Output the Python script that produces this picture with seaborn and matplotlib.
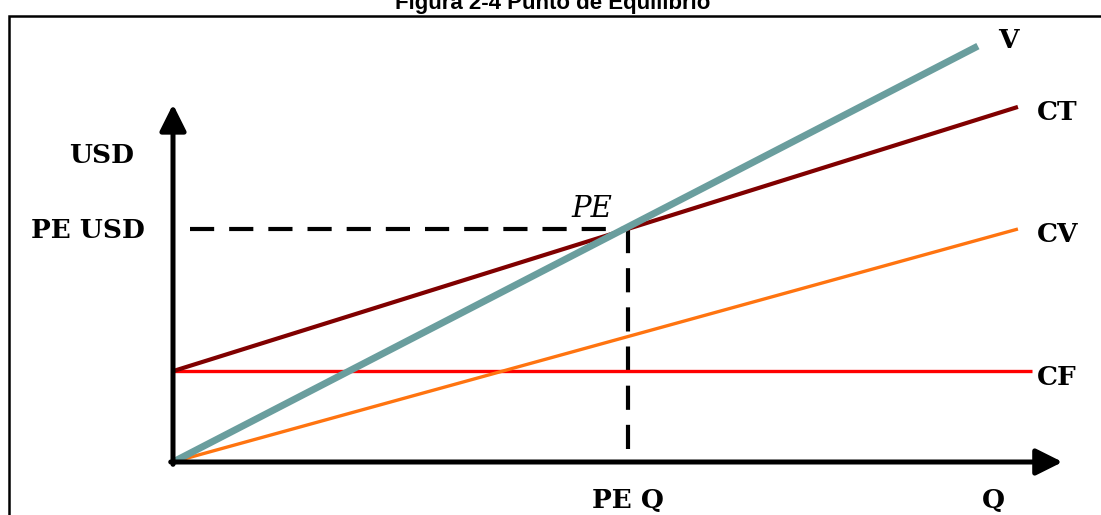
import matplotlib
matplotlib.use("Agg")
import matplotlib.pyplot as plt
import pandas as pd
import seaborn as sns
from matplotlib.patches import Rectangle

# Break-even chart values (Q units, USD units)
Q_FIXED = [0.0, 18.88]
USD_FIXED = [3.9, 3.9]
Q_TOTAL = [0.0, 18.57]
USD_TOTAL = [3.9, 15.24]
Q_SALES = [0.0, 17.69]
USD_SALES = [0.0, 17.85]
Q_VAR = [0.0, 18.57]
USD_VAR = [0.0, 10.0]
PE_Q = 10.0
PE_USD = 10.0
Q_AXIS_END = 19.55
USD_AXIS_END = 15.35

LINE_NAMES = ["CF", "CV", "CT", "V"]
LINE_COLORS = {"CF": "#FF0000", "CV": "#FF7410", "CT": "#800000", "V": "#6A9E9E"}
LINE_WIDTHS = {"CF": 2.4, "CV": 2.4, "CT": 3.0, "V": 5.0}

TITLE = "Figura 2-4 Punto de Equilibrio"

sns.set_style("white")
plt.rcParams["font.family"] = ["DejaVu Serif"]
plt.rcParams["text.color"] = "black"

fig = plt.figure(figsize=(11.01, 5.15), dpi=100)
ax = fig.add_axes([0, 0, 1, 1])

# pixel layout: origin at (173, 462), 45.5 px per Q, 23.3 px per USD
ax.set_xlim(-173 / 45.5, (1101 - 173) / 45.5)
ax.set_ylim(-(515 - 462) / 23.3, 462 / 23.3)
ax.axis("off")

# border box
fig.patches.append(Rectangle((9 / 1101, -0.1), 1.2, 1.1 - 16 / 515,
                             transform=fig.transFigure, fill=False,
                             edgecolor="black", linewidth=1.8))

fig.text(0.502, 1 - 9 / 515, TITLE, ha="center", va="baseline", color="black",
         fontsize=16, fontweight="bold", family=["Liberation Sans", "DejaVu Sans"])

# dashed guides to the break-even point
ax.plot([0.37, PE_Q], [PE_USD, PE_USD], color="black", lw=3,
        dashes=(5.8, 3.6), solid_capstyle="butt", zorder=2)
ax.plot([PE_Q, PE_Q], [PE_USD, 0], color="black", lw=3,
        dashes=(5.8, 3.6), zorder=2)

lines = pd.DataFrame({
    "name": ["CF", "CF", "CV", "CV", "CT", "CT", "V", "V"],
    "q": Q_FIXED + Q_VAR + Q_TOTAL + Q_SALES,
    "usd": USD_FIXED + USD_VAR + USD_TOTAL + USD_SALES,
})
for name in LINE_NAMES:
    sub = lines[lines["name"] == name]
    sns.lineplot(data=sub, x="q", y="usd", color=LINE_COLORS[name],
                 lw=LINE_WIDTHS[name], ax=ax, zorder=3, sort=False,
                 solid_capstyle="butt")

# axes with arrowheads
arrow = dict(arrowstyle="-|>,head_length=0.8,head_width=0.4", color="black",
             lw=3.6, mutation_scale=20, shrinkA=0, shrinkB=0)
ax.annotate("", xy=(0, USD_AXIS_END), xytext=(0, -0.1), arrowprops=arrow, zorder=4)
ax.annotate("", xy=(Q_AXIS_END, 0), xytext=(-0.05, 0), arrowprops=arrow, zorder=4)

lab = dict(fontsize=19, fontweight="bold", va="baseline", color="black")
ax.text(-1.57, 12.83, "USD", ha="center", **lab)
ax.text(-1.87, 9.61, "PE USD", ha="center", **lab)
ax.text(PE_Q, -1.97, "PE Q", ha="center", **lab)
ax.text(18.02, -1.97, "Q", ha="center", **lab)
ax.text(18.35, 17.77, "V", ha="center", **lab)
ax.text(18.99, 14.68, "CT", ha="left", **lab)
ax.text(18.99, 9.44, "CV", ha="left", **lab)
ax.text(18.99, 3.30, "CF", ha="left", **lab)
ax.text(9.21, 10.52, "PE", ha="center", va="baseline", fontsize=21,
        fontstyle="italic", color="black")

fig.savefig("out.png", dpi=100)
